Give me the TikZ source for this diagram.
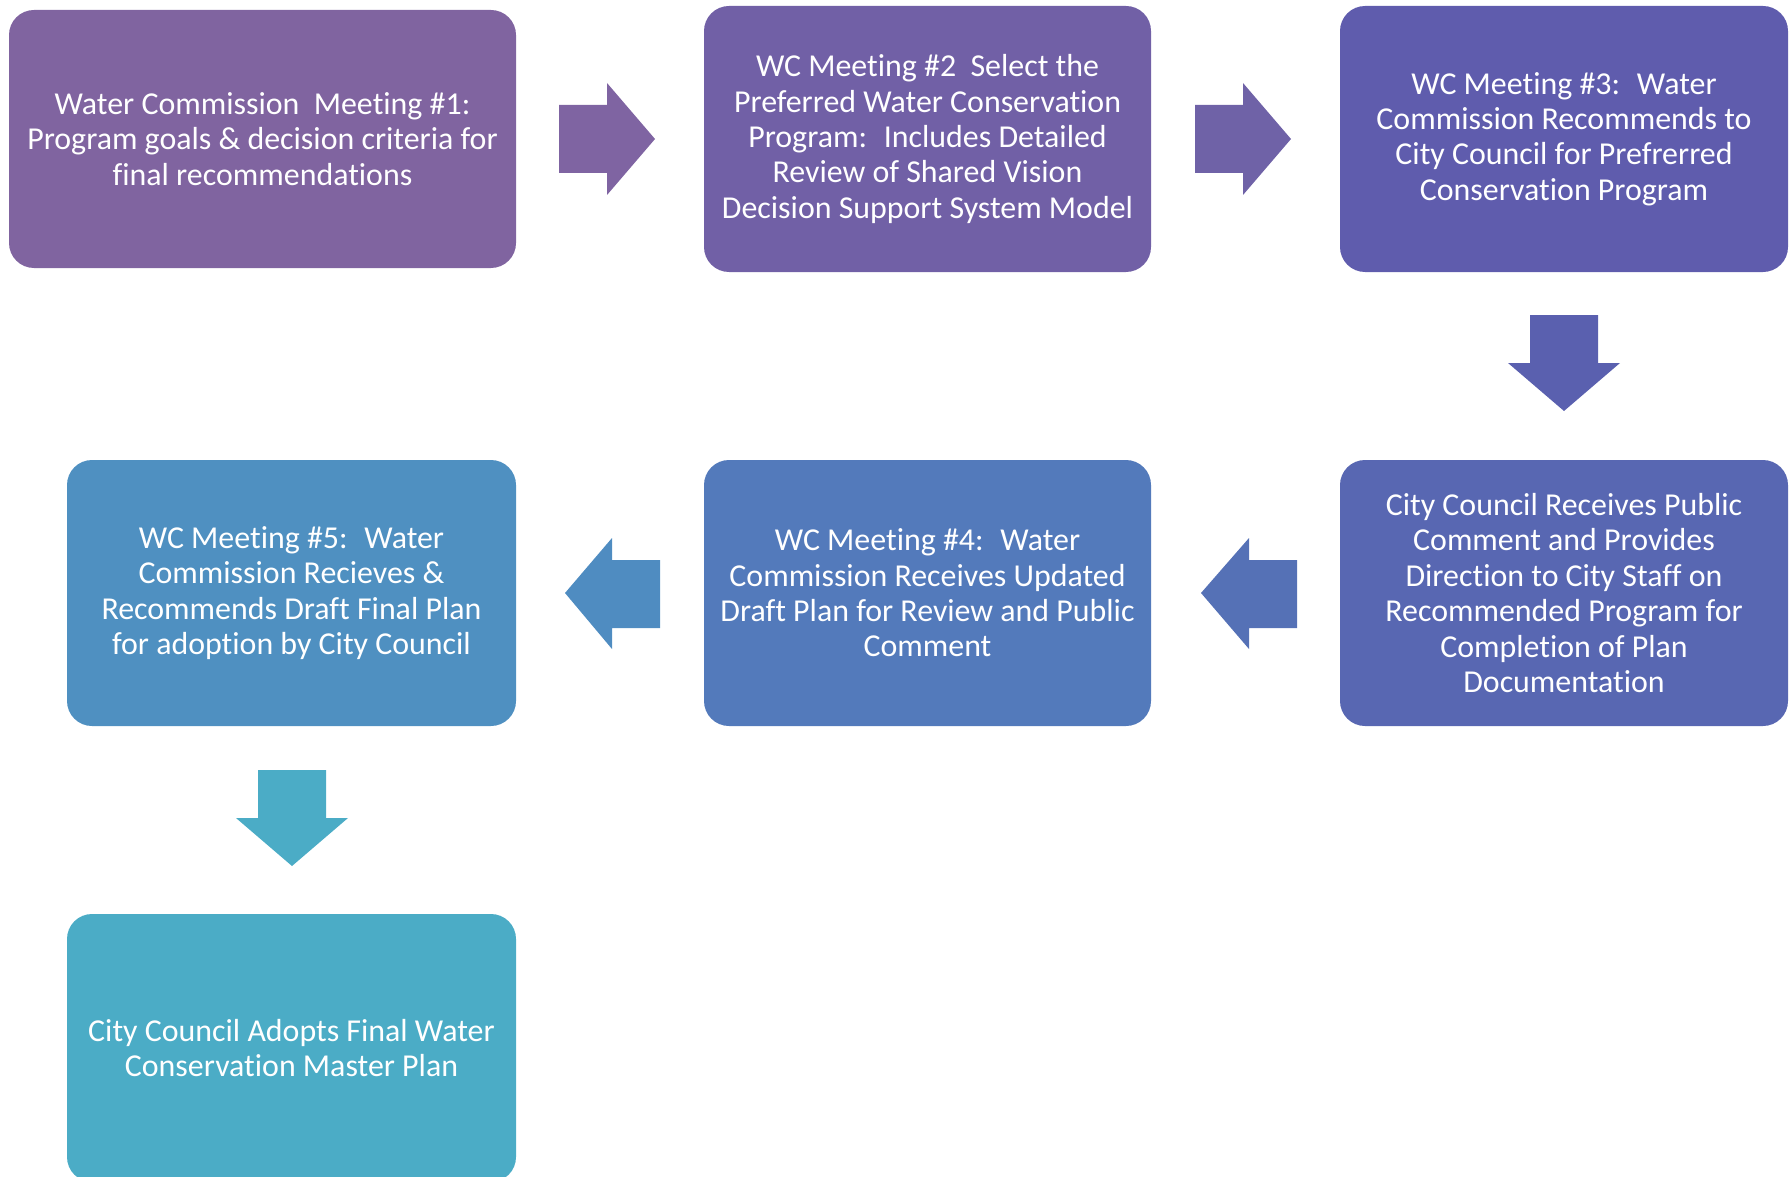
\documentclass[tikz,border=0pt]{standalone}
\usepackage{fontspec}
\setmainfont{Carlito}[Ligatures=NoCommon]
\definecolor{c1}{RGB}{128,100,160}
\definecolor{c2}{RGB}{113,96,166}
\definecolor{c3}{RGB}{95,92,173}
\definecolor{c6}{RGB}{88,103,178}
\definecolor{c5}{RGB}{83,122,187}
\definecolor{c4}{RGB}{79,144,193}
\definecolor{c7}{RGB}{75,172,198}
\definecolor{a1}{RGB}{127,100,162}
\definecolor{a2}{RGB}{111,98,167}
\definecolor{a3}{RGB}{90,96,175}
\definecolor{a4}{RGB}{85,113,182}
\definecolor{a5}{RGB}{79,140,193}
\definecolor{a6}{RGB}{75,172,198}
\tikzset{
  box/.style={rounded corners=25pt, draw=none, inner sep=0pt, outer sep=0pt,
    align=center, text=white, font=\fontsize{31.9}{35.4}\selectfont},
}
\begin{document}
\begin{tikzpicture}[x=1pt,y=-1pt]
\useasboundingbox (0,0) rectangle (1791,1177);
\node[box, fill=c1, minimum width=507pt, minimum height=258pt] (b1) at (262.5,139)
  {Water Commission~ Meeting \#1:\\Program goals \& decision criteria for\\final recommendations};
\node[box, fill=c2, minimum width=447pt, minimum height=266pt] (b2) at (927.5,139)
  {WC Meeting \#2~ Select the\\Preferred Water Conservation\\Program:~ Includes Detailed\\Review of Shared Vision\\Decision Support System Model};
\node[box, fill=c3, minimum width=448pt, minimum height=266pt] (b3) at (1564,139)
  {WC Meeting \#3:~ Water\\Commission Recommends to\\City Council for Prefrerred\\Conservation Program};
\node[box, fill=c6, minimum width=448pt, minimum height=266pt] (b6) at (1564,593)
  {City Council Receives Public\\Comment and Provides\\Direction to City Staff on\\Recommended Program for\\Completion of Plan\\Documentation};
\node[box, fill=c5, minimum width=447pt, minimum height=266pt] (b5) at (927.5,593)
  {WC Meeting \#4:~ Water\\Commission Receives Updated\\Draft Plan for Review and Public\\Comment};
\node[box, fill=c4, minimum width=449pt, minimum height=266pt] (b4) at (291.5,593)
  {WC Meeting \#5:~ Water\\Commission Recieves \&\\Recommends Draft Final Plan\\for adoption by City Council};
\node[box, fill=c7, minimum width=449pt, minimum height=268pt] (b7) at (291.5,1048)
  {City Council Adopts Final Water\\Conservation Master Plan};
% block arrows
\fill[a1] (559,105) -- (607,105) -- (607,83) -- (655,139) -- (607,195) -- (607,173) -- (559,173) -- cycle;
\fill[a2] (1195,105) -- (1243,105) -- (1243,83) -- (1291,139) -- (1243,195) -- (1243,173) -- (1195,173) -- cycle;
\fill[a3] (1530,315) -- (1598,315) -- (1598,363) -- (1620,363) -- (1564,411) -- (1508,363) -- (1530,363) -- cycle;
\fill[a4] (1297,560) -- (1249,560) -- (1249,538) -- (1201,593) -- (1249,649) -- (1249,628) -- (1297,628) -- cycle;
\fill[a5] (660,560) -- (612,560) -- (612,538) -- (565,593) -- (612,649) -- (612,628) -- (660,628) -- cycle;
\fill[a6] (258,770) -- (326,770) -- (326,818) -- (348,818) -- (292,866) -- (236,818) -- (258,818) -- cycle;
\end{tikzpicture}
\end{document}
